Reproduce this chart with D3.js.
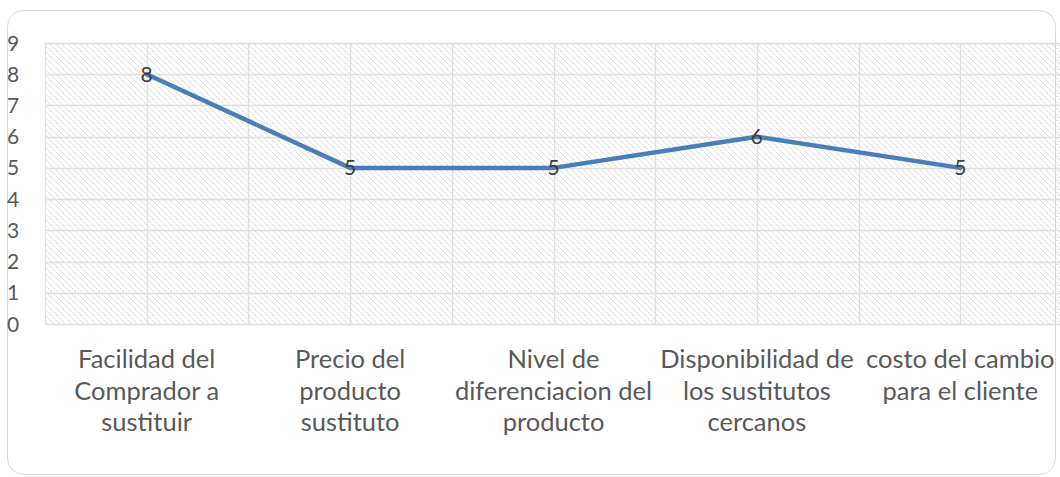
<!DOCTYPE html>
<html><head><meta charset="utf-8">
<script src="https://cdn.jsdelivr.net/npm/d3@7"></script>
<style>body{margin:0;background:#fff;} svg{display:block;}</style>
</head><body>
<svg id="c" width="1060" height="477"></svg>
<script>
const categories = [
  ["Facilidad del", "Comprador a", "sustituir"],
  ["Precio del", "producto", "sustituto"],
  ["Nivel de", "diferenciacion del", "producto"],
  ["Disponibilidad de", "los sustitutos", "cercanos"],
  ["costo del cambio", "para el cliente"]
];
const values = [8, 5, 5, 6, 5];
const yTicks = [0,1,2,3,4,5,6,7,8,9];

const svg = d3.select("#c");
const font = "Lato, 'Open Sans', sans-serif";
const textColor = "#595959";

// chart frame
svg.append("rect").attr("x", 7.5).attr("y", 10.5).attr("width", 1048).attr("height", 464)
  .attr("rx", 16).attr("fill", "#fff").attr("stroke", "#d9d9d9").attr("stroke-width", 1);

const pLeft = 45, pRight = 1062, pTop = 43, pBottom = 324;
const x = d3.scaleBand().domain(d3.range(values.length)).range([pLeft, pRight]).padding(0);
const y = d3.scaleLinear().domain([0, 9]).range([pBottom, pTop]);

const defs = svg.append("defs");
const pat = defs.append("pattern").attr("id", "hatch").attr("patternUnits", "userSpaceOnUse")
  .attr("width", 6).attr("height", 6);
pat.append("path").attr("d", "M-1,-1 L7,7 M-1,5 L1,7 M5,-1 L7,1")
  .attr("stroke", "#cccccc").attr("stroke-width", 1.1).attr("stroke-dasharray", "1,1");

svg.append("rect").attr("x", pLeft).attr("y", pTop).attr("width", pRight - pLeft).attr("height", pBottom - pTop)
  .attr("fill", "url(#hatch)");

// horizontal gridlines
svg.append("g").selectAll("line").data(yTicks).join("line")
  .attr("x1", pLeft).attr("x2", pRight)
  .attr("y1", d => Math.round(y(d)) + 0.5).attr("y2", d => Math.round(y(d)) + 0.5)
  .attr("stroke", "#e0e0e0").attr("stroke-width", 1.3);

// vertical gridlines: category boundaries and centres
const vlines = [];
x.domain().forEach(i => { vlines.push(x(i)); vlines.push(x(i) + x.bandwidth() / 2); });
vlines.push(pRight);
svg.append("g").selectAll("line").data(vlines).join("line")
  .attr("x1", d => Math.round(d) + 0.5).attr("x2", d => Math.round(d) + 0.5)
  .attr("y1", pTop).attr("y2", pBottom)
  .attr("stroke", "#e0e0e0").attr("stroke-width", 1.3);

// y axis labels
svg.append("g").selectAll("text").data(yTicks).join("text")
  .attr("x", 7).attr("y", d => y(d)).attr("dy", "0.36em")
  .attr("font-family", font).attr("font-size", 21).attr("fill", textColor)
  .text(d => d);

// x category labels
const xl = svg.append("g").selectAll("text").data(categories).join("text")
  .attr("text-anchor", "middle")
  .attr("font-family", font).attr("font-size", 25.5).attr("fill", textColor);
xl.each(function(lines, i) {
  d3.select(this).selectAll("tspan").data(lines).join("tspan")
    .attr("x", x(i) + x.bandwidth() / 2)
    .attr("y", (d, j) => 368 + j * 31.5)
    .text(d => d);
});

// line
const line = d3.line().x((d, i) => x(i) + x.bandwidth() / 2).y(d => y(d));
svg.append("path").datum(values).attr("d", line)
  .attr("fill", "none").attr("stroke", "#4a7ebb").attr("stroke-width", 4.5)
  .attr("stroke-linejoin", "round").attr("stroke-linecap", "round");

// data labels
svg.append("g").selectAll("text").data(values).join("text")
  .attr("x", (d, i) => x(i) + x.bandwidth() / 2)
  .attr("y", d => y(d)).attr("dy", "0.36em").attr("text-anchor", "middle")
  .attr("font-family", font).attr("font-size", 21).attr("fill", "#404040")
  .text(d => d);
</script>
</body></html>
